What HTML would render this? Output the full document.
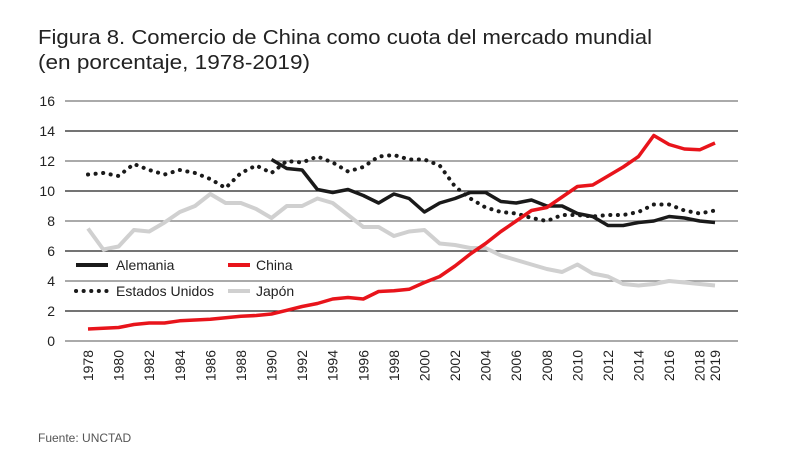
<!DOCTYPE html>
<html><head><meta charset="utf-8"><style>
body{margin:0;background:#fff;width:795px;height:468px;overflow:hidden;font-family:"Liberation Sans",sans-serif}
</style></head><body>
<svg width="795" height="468" id="c">
<text x="38" y="44" font-size="20" fill="#222" textLength="614" lengthAdjust="spacingAndGlyphs">Figura 8. Comercio de China como cuota del mercado mundial</text>
<text x="38" y="69" font-size="20" fill="#222" textLength="272" lengthAdjust="spacingAndGlyphs">(en porcentaje, 1978-2019)</text>
<text x="38" y="442" font-size="12" fill="#555">Fuente: UNCTAD</text>
<g id="grid"></g><g id="lines"></g><g id="xt"></g>
<g font-size="14" fill="#222">
<line x1="76" y1="265" x2="108" y2="265" stroke="#1a1a1a" stroke-width="4"/><text x="116" y="270">Alemania</text>
<line x1="228" y1="265" x2="250" y2="265" stroke="#e8141b" stroke-width="4"/><text x="256" y="270">China</text>
<line x1="76" y1="291" x2="108" y2="291" stroke="#1a1a1a" stroke-width="4" stroke-dasharray="0.1 7.5" stroke-linecap="round"/><text x="116" y="296">Estados Unidos</text>
<line x1="228" y1="291" x2="250" y2="291" stroke="#d0d0d0" stroke-width="4"/><text x="256" y="296">Japón</text>
</g>
</svg>
<script>
const years=[];for(let y=1978;y<=2019;y++)years.push(y);
const yTicks=[0,2,4,6,8,10,12,14,16];
const china=[0.8,0.85,0.9,1.1,1.2,1.2,1.35,1.4,1.45,1.55,1.65,1.7,1.8,2.05,2.3,2.5,2.8,2.9,2.8,3.3,3.35,3.45,3.9,4.3,5.0,5.8,6.5,7.3,8.0,8.7,8.9,9.6,10.3,10.4,11.0,11.6,12.3,13.7,13.1,12.8,12.75,13.2];
const alemania=[null,null,null,null,null,null,null,null,null,null,null,null,12.1,11.5,11.4,10.1,9.9,10.1,9.7,9.2,9.8,9.5,8.6,9.2,9.5,9.9,9.9,9.3,9.2,9.4,9.0,9.0,8.5,8.3,7.7,7.7,7.9,8.0,8.3,8.2,8.0,7.9];
const eeuu=[11.1,11.2,11.0,11.8,11.4,11.1,11.4,11.2,10.8,10.2,11.2,11.7,11.2,12.0,11.9,12.3,11.9,11.3,11.6,12.3,12.4,12.1,12.1,11.7,10.3,9.5,8.9,8.6,8.5,8.2,8.0,8.4,8.4,8.3,8.4,8.4,8.6,9.1,9.1,8.7,8.5,8.7];
const japon=[7.5,6.1,6.3,7.4,7.3,7.9,8.6,9.0,9.8,9.2,9.2,8.8,8.2,9.0,9.0,9.5,9.2,8.4,7.6,7.6,7.0,7.3,7.4,6.5,6.4,6.2,6.2,5.7,5.4,5.1,4.8,4.6,5.1,4.5,4.3,3.8,3.7,3.8,4.0,3.9,3.8,3.7];
const NS="http://www.w3.org/2000/svg";
const X=y=>88+(y-1978)*(715-88)/41, Y=v=>341-v*15;
function mk(t,a,p){const e=document.createElementNS(NS,t);for(const k in a)e.setAttribute(k,a[k]);p.appendChild(e);return e}
const grid=document.getElementById('grid');
yTicks.forEach(v=>{
 const l=mk('line',{x1:65,x2:738,y1:Y(v),y2:Y(v),stroke:v%4==0?'#777':'#222','stroke-width':1.2},grid);
 
 
 const t=mk('text',{x:55,y:Y(v)+5,'font-size':14,'text-anchor':'end',fill:'#222'},grid);t.textContent=v;
 
 
});
const xt=document.getElementById('xt');
years.forEach(y=>{if(y%2)return;
 const t=mk('text',{transform:`translate(${X(y)+5},350) rotate(-90)`,'font-size':14,'text-anchor':'end',fill:'#222'},xt);t.textContent=y;
 
 
});
{const t=mk('text',{transform:`translate(${X(2019)+5},350) rotate(-90)`,'font-size':14,'text-anchor':'end',fill:'#222'},xt);t.textContent=2019;
 
 }
const lines=document.getElementById('lines');
function series(d,attrs,name){let s='';d.forEach((v,i)=>{if(v==null)return;s+=(s?'L':'M')+X(years[i]).toFixed(1)+','+Y(v).toFixed(1)});
 const p=mk('path',Object.assign({d:s,fill:'none','stroke-linejoin':'round'},attrs),lines);
 
 }
series(japon,{stroke:'#d0d0d0','stroke-width':4},'line-japon');
series(eeuu,{stroke:'#1a1a1a','stroke-width':4,'stroke-dasharray':'0.1 7.5','stroke-linecap':'round'},'line-estados-unidos');
series(alemania,{stroke:'#1a1a1a','stroke-width':3.5},'line-alemania');
series(china,{stroke:'#e8141b','stroke-width':3.5},'line-china');
</script>
</body></html>
